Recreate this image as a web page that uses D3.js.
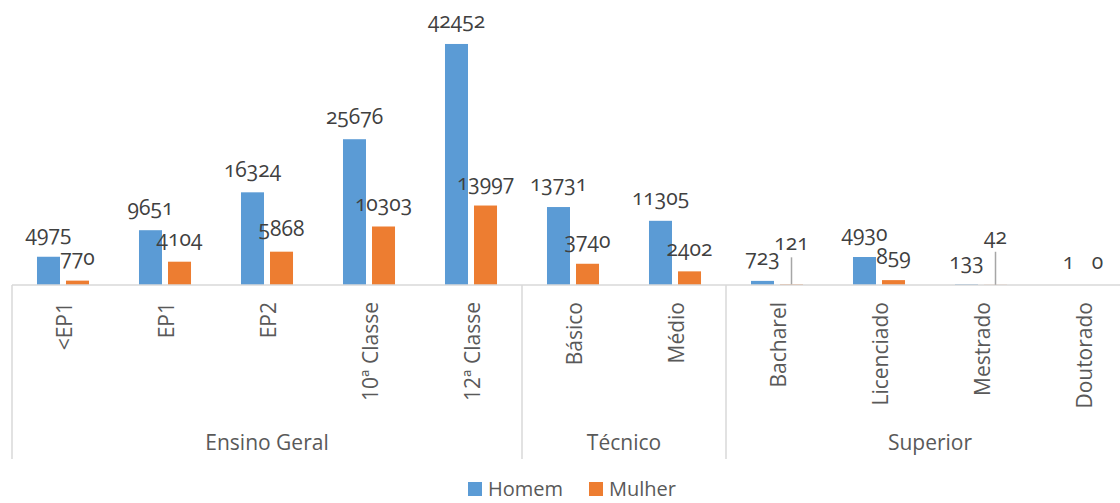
<!DOCTYPE html>
<html>
<head>
<meta charset="utf-8">
<script src="https://cdn.jsdelivr.net/npm/d3@7"></script>
<style>
  html, body { margin: 0; padding: 0; background: #fff; }
  svg { display: block; }
  text { font-family: "Open Sans", "Noto Sans", sans-serif; }
</style>
</head>
<body>
<svg id="chart" width="1120" height="503"></svg>
<script>
const categories = ['<EP1', 'EP1', 'EP2', '10ª Classe', '12ª Classe', 'Básico', 'Médio', 'Bacharel', 'Licenciado', 'Mestrado', 'Doutorado'];
const groups = ['Ensino Geral', 'Técnico', 'Superior'];
const groupSizes = [5, 2, 4];
const seriesNames = ['Homem', 'Mulher'];
const homem = [4975, 9651, 16324, 25676, 42452, 13731, 11305, 723, 4930, 133, 1];
const mulher = [770, 4104, 5868, 10303, 13997, 3740, 2402, 121, 859, 42, 0];

const colors = { Homem: '#5B9BD5', Mulher: '#ED7D31' };
const seriesValues = { Homem: homem, Mulher: mulher };
// labels pulled up with a leader line (style only)
const leaderLift = { 'Mulher|Bacharel': 42, 'Mulher|Mestrado': 48 };

const svg = d3.select('#chart');
const baseY = 285;

const x = d3.scaleBand().domain(categories).range([12, 1134]).paddingInner(0.49).paddingOuter(0.245);
const xs = d3.scaleBand().domain(seriesNames).range([0, x.bandwidth()]).paddingInner(0.2069);
const y = d3.scaleLinear().domain([0, 45000]).range([baseY, 29.5]);

const rows = [];
seriesNames.forEach(s => categories.forEach((c, i) => rows.push({ s, c, v: seriesValues[s][i] })));

// bars
svg.append('g').selectAll('rect').data(rows).join('rect')
  .attr('x', d => x(d.c) + xs(d.s))
  .attr('width', xs.bandwidth())
  .attr('y', d => y(d.v))
  .attr('height', d => baseY - y(d.v))
  .attr('fill', d => colors[d.s]);

// baseline
svg.append('line').attr('x1', 12).attr('x2', 1120).attr('y1', baseY).attr('y2', baseY)
  .attr('stroke', '#d9d9d9').attr('stroke-width', 1.5);

// category axis
const axis = svg.append('g').attr('transform', `translate(0,${baseY})`)
  .call(d3.axisBottom(x).tickSize(0));
axis.select('.domain').remove();
axis.selectAll('text')
  .attr('transform', 'rotate(-90)')
  .attr('x', -17).attr('y', 2).attr('dy', '0.35em')
  .attr('text-anchor', 'end')
  .attr('fill', '#595959')
  .style('font-size', '21px')
  .style('font-family', '"Open Sans", sans-serif');

// group separators and labels
let start = 0;
const step = x.step();
const bounds = [];
groupSizes.forEach(n => { bounds.push([start, start + n]); start += n; });
bounds.forEach(([a, b], gi) => {
  const left = x(categories[a]) - step * x.paddingInner() / 2;
  const right = x(categories[b - 1]) + x.bandwidth() + step * x.paddingInner() / 2;
  svg.append('line').attr('x1', left).attr('x2', left).attr('y1', baseY).attr('y2', 459)
    .attr('stroke', '#d9d9d9').attr('stroke-width', 1.5);
  svg.append('text').attr('x', (left + right) / 2).attr('y', 443).attr('dy', '0.35em')
    .attr('text-anchor', 'middle').attr('fill', '#595959').style('font-size', '21px')
    .text(groups[gi]);
});

// leader lines
rows.filter(d => leaderLift[d.s + '|' + d.c]).forEach(d => {
  const cx = x(d.c) + xs(d.s) + xs.bandwidth() / 2;
  const ly = y(d.v) - leaderLift[d.s + '|' + d.c];
  svg.append('line').attr('x1', cx).attr('x2', cx).attr('y1', ly + 15).attr('y2', y(d.v))
    .attr('stroke', '#a6a6a6').attr('stroke-width', 1.5);
});

// data labels
svg.append('g').selectAll('text').data(rows).join('text')
  .attr('x', d => x(d.c) + xs(d.s) + xs.bandwidth() / 2)
  .attr('y', d => y(d.v) - (leaderLift[d.s + '|' + d.c] || 23))
  .attr('dy', '0.35em')
  .attr('text-anchor', 'middle')
  .attr('fill', '#404040')
  .style('font-size', '21px')
  .style('font-variant-numeric', 'oldstyle-nums')
  .text(d => d.v);

// legend
const legend = svg.append('g');
const legendItems = [{ s: 'Homem', x: 468 }, { s: 'Mulher', x: 589 }];
legendItems.forEach(it => {
  legend.append('rect').attr('x', it.x).attr('y', 482).attr('width', 14).attr('height', 14).attr('fill', colors[it.s]);
  legend.append('text').attr('x', it.x + 20).attr('y', 489).attr('dy', '0.35em')
    .attr('fill', '#595959').style('font-size', '20px').text(it.s);
});
</script>
</body>
</html>
